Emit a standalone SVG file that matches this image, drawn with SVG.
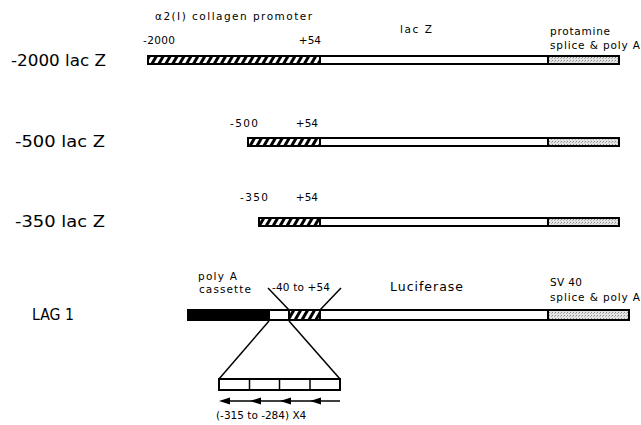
<svg xmlns="http://www.w3.org/2000/svg" width="641" height="425" viewBox="0 0 641 425">
<style>
.lbl{font-family:"DejaVu Sans",sans-serif;font-size:15.5px;fill:#000}
.sm{font-family:"DejaVu Sans",sans-serif;font-size:10.5px;fill:#000}
.bar{stroke:#000;stroke-width:2}
.ln{stroke:#000;stroke-width:1.5;fill:none}
</style>
<defs>
<pattern id="hatch" width="6" height="6" patternUnits="userSpaceOnUse" patternTransform="rotate(30)">
<rect width="6" height="6" fill="#fff"/>
<rect width="3" height="6" fill="#000"/>
</pattern>
<pattern id="stip" width="3" height="3" patternUnits="userSpaceOnUse">
<rect width="3" height="3" fill="#e4e4e4"/>
<rect x="0" y="0" width="1" height="1" fill="#8a8a8a"/>
<rect x="2" y="1" width="1" height="1" fill="#b0b0b0"/>
</pattern>
</defs>
<rect width="641" height="425" fill="#fff"/>

<g id="construct-2000">
<text class="lbl" x="11" y="66" textLength="95" lengthAdjust="spacingAndGlyphs">-2000 lac Z</text>
<text class="sm" x="155" y="20" textLength="157">α2(I) collagen promoter</text>
<text class="sm" x="143" y="44" textLength="32">-2000</text>
<text class="sm" x="321" y="44" text-anchor="end">+54</text>
<text class="sm" x="400" y="33" textLength="32">lac Z</text>
<text class="sm" x="550" y="35" textLength="60">protamine</text>
<text class="sm" x="550" y="49" textLength="90">splice &amp; poly A</text>
<rect class="bar" x="148" y="56" width="172" height="8" fill="url(#hatch)"/>
<rect class="bar" x="320" y="56" width="228" height="8" fill="#fff"/>
<rect class="bar" x="548" y="56" width="71" height="8" fill="url(#stip)"/>
</g>

<g id="construct-500">
<text class="lbl" x="15" y="147" textLength="90" lengthAdjust="spacingAndGlyphs">-500 lac Z</text>
<text class="sm" x="230" y="127" textLength="28">-500</text>
<text class="sm" x="318" y="127" text-anchor="end">+54</text>
<rect class="bar" x="248" y="138" width="72" height="8" fill="url(#hatch)"/>
<rect class="bar" x="320" y="138" width="228" height="8" fill="#fff"/>
<rect class="bar" x="548" y="138" width="71" height="8" fill="url(#stip)"/>
</g>

<g id="construct-350">
<text class="lbl" x="15" y="227" textLength="90" lengthAdjust="spacingAndGlyphs">-350 lac Z</text>
<text class="sm" x="240" y="201" textLength="28">-350</text>
<text class="sm" x="318" y="201" text-anchor="end">+54</text>
<rect class="bar" x="259" y="218" width="61" height="8" fill="url(#hatch)"/>
<rect class="bar" x="320" y="218" width="228" height="8" fill="#fff"/>
<rect class="bar" x="548" y="218" width="71" height="8" fill="url(#stip)"/>
</g>

<g id="construct-lag1">
<text class="lbl" x="32" y="320" textLength="42" lengthAdjust="spacingAndGlyphs">LAG 1</text>
<text class="sm" x="198" y="280" textLength="39">poly A</text>
<text class="sm" x="199" y="293" textLength="52">cassette</text>
<text class="sm" x="272" y="291" textLength="58">-40 to +54</text>
<text class="sm" x="390" y="291" style="font-size:12.5px" textLength="73">Luciferase</text>
<text class="sm" x="550" y="286" textLength="32">SV 40</text>
<text class="sm" x="550" y="301" textLength="90">splice &amp; poly A</text>
<rect class="bar" x="188" y="310" width="81" height="10" fill="#000"/>
<rect class="bar" x="269" y="310" width="20" height="10" fill="#fff"/>
<rect class="bar" x="289" y="310" width="31" height="10" fill="url(#hatch)"/>
<rect class="bar" x="320" y="310" width="228" height="10" fill="#fff"/>
<rect class="bar" x="548" y="310" width="81" height="10" fill="url(#stip)"/>
</g>

<g id="repeat-element">
<rect class="bar" x="219" y="379" width="121" height="11" fill="#fff"/>
<line class="ln" x1="249.5" y1="379" x2="249.5" y2="390"/>
<line class="ln" x1="279.5" y1="379" x2="279.5" y2="390"/>
<line class="ln" x1="310" y1="379" x2="310" y2="390"/>
<text class="sm" x="216" y="419">(-315 to -284) X4</text>
</g>

<g id="connectors">
<line class="ln" x1="268" y1="288" x2="290" y2="311"/>
<line class="ln" x1="341" y1="288" x2="319" y2="311"/>
<line class="ln" x1="269" y1="321" x2="219" y2="379"/>
<line class="ln" x1="289" y1="321" x2="340" y2="379"/>
<line class="ln" x1="222" y1="401" x2="340" y2="401"/>
<polygon points="219,401 230,397.5 230,404.5" fill="#000"/>
<polygon points="250,401 261,397.5 261,404.5" fill="#000"/>
<polygon points="280,401 291,397.5 291,404.5" fill="#000"/>
<polygon points="310,401 321,397.5 321,404.5" fill="#000"/>
</g>
</svg>
